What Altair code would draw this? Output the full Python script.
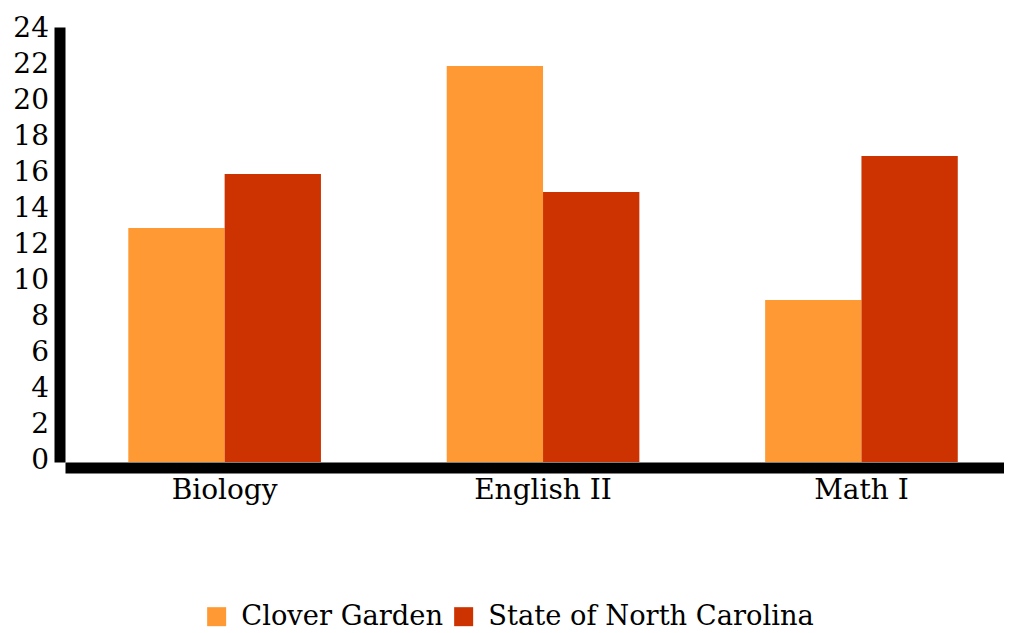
import altair as alt
import pandas as pd

subjects = ["Biology", "English II", "Math I"]
clover_garden = [13, 22, 9]
state_nc = [16, 15, 17]
series = ["Clover Garden", "State of North Carolina"]
colors = ["#FF9933", "#CC3300"]
y_ticks = list(range(0, 25, 2))

rows = []
for i, s in enumerate(subjects):
    rows.append({"subject": s, "group": series[0], "value": clover_garden[i]})
    rows.append({"subject": s, "group": series[1], "value": state_nc[i]})
df = pd.DataFrame(rows)

FONT = "DejaVu Serif"

chart = alt.Chart(df).mark_bar().encode(
    x=alt.X(
        "subject:N",
        sort=subjects,
        scale=alt.Scale(paddingInner=0.395, paddingOuter=0.172, align=0.578),
        axis=alt.Axis(
            title=None, labelAngle=0, ticks=False, grid=False,
            domainWidth=11, domainColor="black", offset=5.5,
            labelFont=FONT, labelFontSize=28, labelColor="black", labelPadding=9,
        ),
    ),
    xOffset=alt.XOffset("group:N", sort=series, scale=alt.Scale(paddingInner=0, paddingOuter=0)),
    y=alt.Y(
        "value:Q",
        scale=alt.Scale(domain=[0, 24.17], nice=False, zero=True),
        axis=alt.Axis(
            title=None, values=y_ticks, ticks=False, grid=False,
            domainWidth=11, domainColor="black", offset=5.5,
            labelFont=FONT, labelFontSize=28, labelColor="black", labelPadding=11,
            labelOffset=-2,
        ),
    ),
    color=alt.Color(
        "group:N",
        scale=alt.Scale(domain=series, range=colors),
        legend=alt.Legend(
            title=None, orient="none", legendX=138, legendY=576,
            direction="horizontal", symbolType="square", symbolSize=361,
            symbolStrokeWidth=0, symbolOpacity=1,
            labelFont=FONT, labelFontSize=27.3, labelColor="black",
            labelOffset=11, columnPadding=7, padding=0, labelLimit=0,
        ),
    ),
).properties(
    width=939,
    height=435,
    autosize=alt.AutoSizeParams(type="none"),
    padding={"left": 57, "top": 19, "right": 0, "bottom": 168},
).configure_view(stroke=None)

chart.save("out.html", embed_options={"renderer": "svg", "actions": False})
